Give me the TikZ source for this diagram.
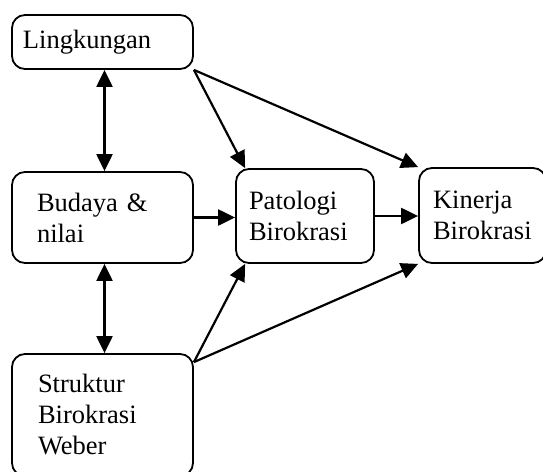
\documentclass[tikz,border=0pt]{standalone}
\usepackage{fontspec}
\setmainfont{Liberation Serif}
\usetikzlibrary{arrows.meta}
\begin{document}
\begin{tikzpicture}[x=1pt,y=-1pt,
  box/.style={draw=black, line width=1.8pt, rounded corners=13pt, align=left,
    font=\fontsize{26.5}{31}\selectfont, anchor=center},
  tip/.style={},
  arr/.style={line width=2.2pt, -{Triangle[length=17pt,width=16pt]}},
  darr/.style={line width=2.2pt, {Triangle[length=17pt,width=16pt]}-{Triangle[length=17pt,width=16pt]}}]
\useasboundingbox (0,0) rectangle (543,471);
\clip (0,0) rectangle (543,471);
\fill[white] (0,0) rectangle (543,471);
\node[box, minimum width=181pt, minimum height=54pt, inner xsep=11pt, text width=159pt] (ling) at (102.5,42) {Lingkungan};
\node[box, minimum width=181pt, minimum height=91pt, inner xsep=25pt, text width=131pt] (bud) at (102.5,217.5) {Budaya \&\\nilai};
\node[box, minimum width=181pt, minimum height=122pt, inner xsep=26pt, text width=129pt] (str) at (102.5,415) {Struktur\\Birokrasi\\Weber};
\node[box, minimum width=138pt, minimum height=94pt, inner xsep=13pt, text width=112pt] (pat) at (305,216) {Patologi\\Birokrasi};
\node[box, minimum width=127pt, minimum height=95pt, inner xsep=14pt, text width=99pt] (kin) at (482.5,215.5) {Kinerja\\Birokrasi};
\draw[darr] ([xshift=2pt]ling.south) -- ([xshift=2pt]bud.north);
\draw[darr] ([xshift=2pt]bud.south) -- ([xshift=2pt]str.north);
\draw[arr] (ling.south east) -- ([xshift=10pt]pat.north west);
\draw[arr] (ling.south east) -- (kin.north west);
\draw[arr] ([yshift=-9pt]str.north east) -- ([xshift=10pt]pat.south west);
\draw[arr] ([yshift=-9pt]str.north east) -- (kin.south west);
\draw[arr] (bud.east) -- (bud.east -| pat.west);
\draw[arr] (pat.east) -- (pat.east -| kin.west);
\end{tikzpicture}
\end{document}
